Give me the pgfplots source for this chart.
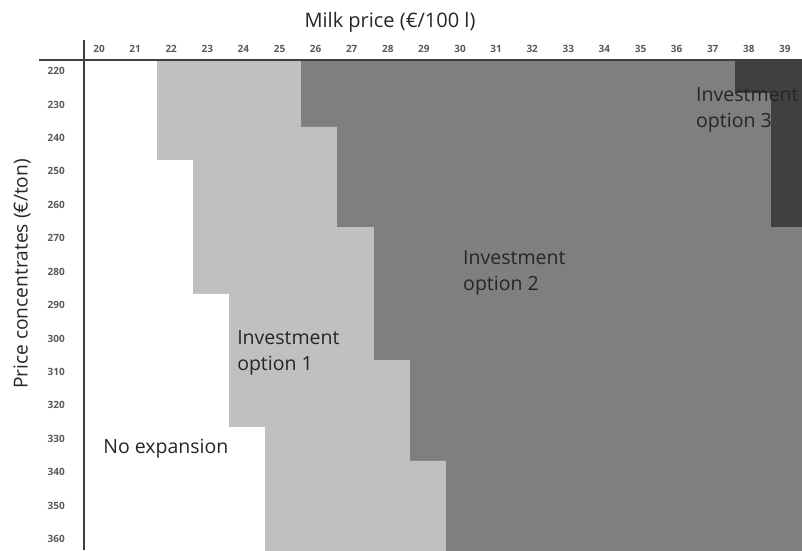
\documentclass[border=0pt]{standalone}
\usepackage{pgfplots}
\pgfplotsset{compat=1.18}
\usepackage{pgfplotstable}
\usepackage{fontspec}
\setmainfont{Open Sans}

\definecolor{optone}{HTML}{C0C0C0}
\definecolor{opttwo}{HTML}{7F7F7F}
\definecolor{optthree}{HTML}{404040}
\definecolor{txt}{HTML}{262626}

% first column of each region, as cell edges (col k spans k-0.5..k+0.5)
\pgfplotstableread{
price noexp opt1 opt2 opt3
220 21.5 25.5 37.5 39.5
230 21.5 25.5 38.5 39.5
240 21.5 26.5 38.5 39.5
250 22.5 26.5 38.5 39.5
260 22.5 26.5 38.5 39.5
270 22.5 27.5 39.5 39.5
280 22.5 27.5 39.5 39.5
290 23.5 27.5 39.5 39.5
300 23.5 27.5 39.5 39.5
310 23.5 28.5 39.5 39.5
320 23.5 28.5 39.5 39.5
330 24.5 28.5 39.5 39.5
340 24.5 29.5 39.5 39.5
350 24.5 29.5 39.5 39.5
360 24.5 29.5 39.5 39.5
}\regions

\begin{document}
\begin{tikzpicture}
\begin{axis}[
  at={(0,0)}, anchor=north west,
  scale only axis, width=718pt, height=490pt,
  xmin=19.5, xmax=39.39,
  ymin=215, ymax=361.7,
  y dir=reverse,
  xbar, bar shift=0pt, bar width=10,
  axis line style={draw=none},
  major tick length=0pt,
  xtick={20,...,39},
  ytick={220,230,...,360},
  xticklabel pos=right,
  /pgf/number format/assume math mode=true,
  ticklabel style={font=\fontsize{10}{12}\selectfont\bfseries, text=black!65, inner sep=0pt},
  xticklabel style={anchor=south, yshift=7pt, xshift=-3pt},
  yticklabel style={anchor=east, xshift=-19pt, yshift=5.5pt},
]
\addplot[fill=optthree, draw=optthree, line width=0.4pt] table[x=opt3, y=price] {\regions};
\addplot[fill=opttwo, draw=opttwo, line width=0.4pt] table[x=opt2, y=price] {\regions};
\addplot[fill=optone, draw=optone, line width=0.4pt] table[x=opt1, y=price] {\regions};
\addplot[fill=white, draw=white, line width=0.4pt] table[x=noexp, y=price] {\regions};

\node[anchor=west, inner sep=0pt, text=txt, font=\fontsize{19.5}{26}\selectfont] at (axis cs:20.03,331.3) {No expansion};
\node[anchor=west, inner sep=0pt, text=txt, align=left, font=\fontsize{19.5}{26}\selectfont] at (axis cs:23.74,302.7) {Investment\\option 1};
\node[anchor=west, inner sep=0pt, text=txt, align=left, font=\fontsize{19.5}{26}\selectfont] at (axis cs:30.0,278.8) {Investment\\option 2};
\end{axis}

% option 3 label runs past the right edge, as in the original
\node[anchor=west, inner sep=0pt, text=txt, align=left, font=\fontsize{19.5}{26}\selectfont] at (612pt,-50pt) {Investment\\option 3};

\draw[line width=1.4pt, black!75] (-45pt,0) -- (718pt,0);
\draw[line width=1.4pt, black!75] (0,20pt) -- (0,-490pt);

\node[text=txt, font=\fontsize{20}{24}\selectfont] at (306pt,38pt) {Milk price (€/100 l)};
\node[text=txt, rotate=90, font=\fontsize{19.2}{24}\selectfont] at (-62pt,-214pt) {Price concentrates (€/ton)};

\pgfresetboundingbox
\path[use as bounding box] (-84pt,-490pt) rectangle (718pt,60pt);
\end{tikzpicture}
\end{document}
